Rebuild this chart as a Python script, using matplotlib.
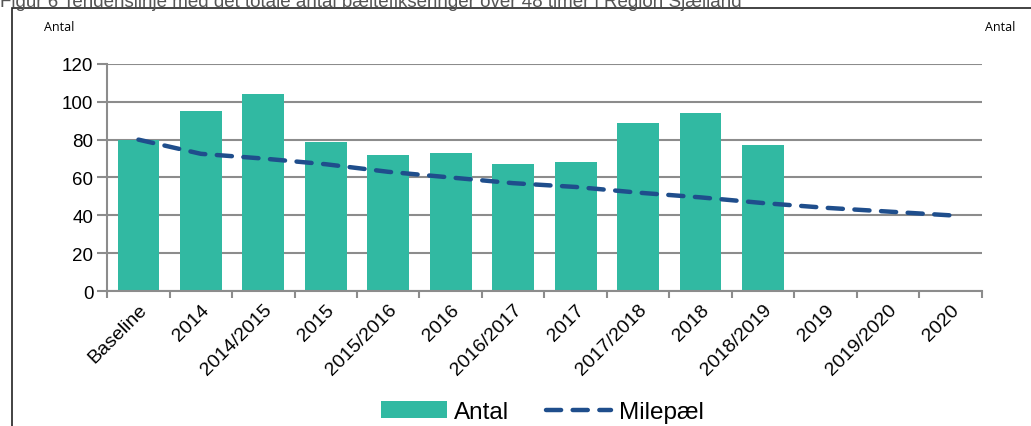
import numpy as np
import matplotlib.pyplot as plt
from matplotlib.patches import Rectangle

plt.rcParams['font.family'] = ['Liberation Sans', 'DejaVu Sans']

categories = ['Baseline', '2014', '2014/2015', '2015', '2015/2016', '2016', '2016/2017',
              '2017', '2017/2018', '2018', '2018/2019', '2019', '2019/2020', '2020']
antal = [80, 95, 104, 79, 72, 73, 67, 68, 89, 94, 77]
milepael = [80, 72.5, 70, 67, 63, 60, 57, 55, 52, 49.5, 46.5, 44, 42, 40]

BAR = '#31b9a2'
LINE = '#1f4e8c'
GRID = '#8c8c8c'

fig = plt.figure(figsize=(10.31, 4.27), dpi=100)
ax = fig.add_axes([0.104, 0.316, 0.848, 0.532])

x = np.arange(len(categories))
bars = ax.bar(x[:len(antal)], antal, width=0.67, color=BAR, label='Antal', zorder=2)
line, = ax.plot(x, milepael, color=LINE, lw=3.2, ls=(0, (3.4, 2.6)), dash_capstyle='round',
                label='Milepæl', zorder=3)

ax.set_xlim(-0.5, len(categories) - 0.5)
ax.set_ylim(0, 120)
ax.set_yticks(range(0, 121, 20))
ax.yaxis.grid(True, color=GRID, lw=1.5, zorder=0)
ax.set_axisbelow(True)

# ticks at category boundaries, labels at centres
ax.set_xticks(np.arange(-0.5, len(categories), 1))
ax.set_xticklabels([])
ax.set_xticks(x, minor=True)
ax.set_xticklabels(categories, minor=True, rotation=45, ha='right',
                   rotation_mode='anchor', fontsize=14)
ax.tick_params(axis='x', which='minor', length=0, pad=7)
ax.tick_params(axis='x', which='major', length=5, width=1.5, color=GRID)
ax.tick_params(axis='y', length=7, width=1.5, color=GRID, labelsize=13.5, pad=3)

for s in ['top', 'right']:
    ax.spines[s].set_visible(False)
for s in ['left', 'bottom']:
    ax.spines[s].set_color(GRID)
    ax.spines[s].set_linewidth(1.5)

fig.legend([bars, line], ['Antal', 'Milepæl'], loc='center', bbox_to_anchor=(0.526, 0.032),
           ncol=2, frameon=False, fontsize=17.5, handlelength=2.7, handleheight=0.7,
           columnspacing=1.5, handletextpad=0.3)

fig.text(0.043, 0.935, 'Antal', fontsize=9, family='Open Sans', va='center')
fig.text(0.955, 0.935, 'Antal', fontsize=9, family='Open Sans', va='center')
fig.text(0.0, 0.993, 'Figur 6 Tendenslinje med det totale antal bæltefikseringer over 48 timer i Region Sjælland',
         fontsize=13.5, color='#555555', va='center')

fig.patches.append(Rectangle((0.012, -0.05), 1.5, 1.03, transform=fig.transFigure,
                             fill=False, edgecolor='#222222', lw=1.2))

fig.savefig('out.png', dpi=100)
